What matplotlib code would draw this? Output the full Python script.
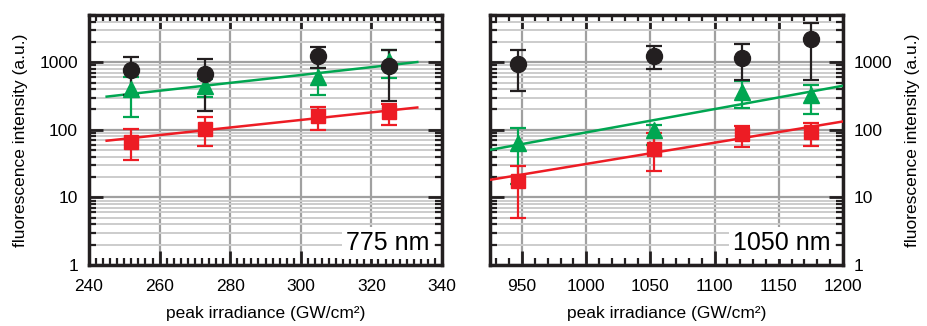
import matplotlib
matplotlib.use('Agg')
import matplotlib.pyplot as plt
from matplotlib.ticker import MultipleLocator, LogLocator, NullFormatter, FixedLocator, FixedFormatter

plt.rcParams['font.family'] = ['Liberation Sans', 'DejaVu Sans']

# 775 nm panel
x775 = [252, 273, 305, 325]
black775 = [757, 676, 1219, 870]
black775_lo = [330, 193, 818, 270]
black775_hi = [1195, 1120, 1660, 1496]
green775 = [400, 448, 602, 1050]
green775_lo = [154, 310, 330, 577]
green775_hi = [602, 563, 818, 1496]
red775 = [67, 103, 160, 183]
red775_lo = [36, 57, 98, 119]
red775_hi = [102, 154, 219, 243]
fitx775 = [245, 333]
green_fit775 = [310, 1007]
red_fit775 = [69, 214]

# 1050 nm panel
x1050 = [947, 1053, 1121, 1175]
black1050 = [940, 1248, 1153, 2205]
black1050_lo = [370, 793, 550, 550]
black1050_hi = [1496, 1755, 1862, 3800]
green1050 = [63, 98, 369, 330]
green1050_lo = [16, 60, 210, 173]
green1050_hi = [106, 118, 532, 464]
red1050 = [17.6, 51.8, 86, 92]
red1050_lo = [5.0, 24.7, 55, 58]
red1050_hi = [29.6, 91, 115, 128]
fitx1050 = [925, 1200]
green_fit1050 = [50.5, 449]
red_fit1050 = [18.2, 133]

BLACK = '#231f20'
GREEN = '#00a651'
RED = '#ed1c24'

fig = plt.figure(figsize=(9.27, 3.26), dpi=100)
ax1 = fig.add_axes([89 / 927, 1 - 265 / 326, 353 / 927, 250 / 326])
ax2 = fig.add_axes([490 / 927, 1 - 265 / 326, 353 / 927, 250 / 326])


def errs(v, lo, hi):
    return [[a - b for a, b in zip(v, lo)], [b - a for a, b in zip(v, hi)]]


def draw_panel(ax, x, series, fitx, fits, label):
    for y, c in fits:
        ax.plot(fitx, y, color=c, lw=1.8, zorder=3)
    for (v, lo, hi), c, m, ms in series:
        ax.errorbar(x, v, yerr=errs(v, lo, hi), fmt=m, color=c, ms=ms,
                    elinewidth=1.6, capsize=6, capthick=1.6, zorder=4)
    ax.set_yscale('log')
    ax.set_ylim(1, 5000)
    ax.yaxis.set_major_locator(FixedLocator([1, 10, 100, 1000]))
    ax.yaxis.set_major_formatter(FixedFormatter(['1', '10', '100', '1000']))
    ax.yaxis.set_minor_locator(LogLocator(base=10, subs=range(2, 10), numticks=20))
    ax.yaxis.set_minor_formatter(NullFormatter())
    ax.grid(which='major', axis='both', color='#a0a0a0', lw=1.6, zorder=0)
    ax.grid(which='minor', axis='y', color='#cccccc', lw=1.4, zorder=0)
    ax.set_axisbelow(True)
    for s in ax.spines.values():
        s.set_linewidth(2.5)
        s.set_color(BLACK)
    ax.tick_params(which='both', direction='in', top=True, right=True,
                   left=True, bottom=True, color=BLACK, labelsize=12.5)
    ax.tick_params(which='major', length=10, width=2)
    ax.tick_params(which='minor', length=5, width=1.6)
    ax.tick_params(axis='x', which='major', pad=10)
    ax.tick_params(axis='y', which='major', pad=8)
    ax.set_xlabel('peak irradiance (GW/cm²)', fontsize=12.5, labelpad=9)
    ax.text(0.965, 0.04, label, transform=ax.transAxes, ha='right', va='bottom',
            fontsize=18, zorder=6,
            bbox=dict(facecolor='white', edgecolor='none', pad=3))


draw_panel(ax1, x775,
           [((green775, green775_lo, green775_hi), GREEN, '^', 11),
            ((red775, red775_lo, red775_hi), RED, 's', 9.5),
            ((black775, black775_lo, black775_hi), BLACK, 'o', 11.5)],
           fitx775, [(green_fit775, GREEN), (red_fit775, RED)], '775 nm')
ax1.set_xlim(240, 340)
ax1.xaxis.set_major_locator(MultipleLocator(20))
ax1.xaxis.set_minor_locator(MultipleLocator(2))
ax1.set_ylabel('fluorescence intensity (a.u.)', fontsize=12.5, labelpad=8)

draw_panel(ax2, x1050,
           [((green1050, green1050_lo, green1050_hi), GREEN, '^', 11),
            ((red1050, red1050_lo, red1050_hi), RED, 's', 9.5),
            ((black1050, black1050_lo, black1050_hi), BLACK, 'o', 11.5)],
           fitx1050, [(green_fit1050, GREEN), (red_fit1050, RED)], '1050 nm')
ax2.set_xlim(925, 1200)
ax2.xaxis.set_major_locator(MultipleLocator(50))
ax2.xaxis.set_minor_locator(MultipleLocator(10))
ax2.tick_params(axis='y', which='both', labelleft=False, labelright=True)
ax2.yaxis.set_label_position('right')
ax2.set_ylabel('fluorescence intensity (a.u.)', fontsize=12.5, labelpad=9)

fig.savefig('out.png', dpi=100)
